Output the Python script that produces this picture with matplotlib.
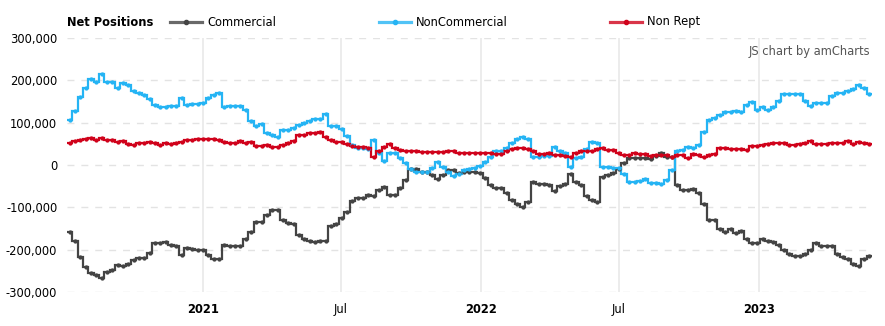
import matplotlib
matplotlib.use('Agg')
import matplotlib.pyplot as plt
import matplotlib.dates as mdates
from matplotlib.lines import Line2D
import numpy as np
import pandas as pd

plt.rcParams['font.family'] = ['DejaVu Sans']

# ---- data (thousands of contracts, weekly) ----
dates = pd.date_range('2020-07-10', periods=151, freq='7D')

commercial_k = [
    -158, -179, -217, -241, -255, -260, -267, -253, -247, -237, -238, -235, -225, -219, -219, -207, -185, -185, -183, -188, -192, -213, -197, -199, -201,
    -200, -213, -221, -221, -188, -192, -192, -192, -174, -158, -134, -134, -118, -107, -107, -130, -137, -140, -166, -174, -179, -183, -180, -180, -144,
    -140, -126, -110, -85, -79, -79, -71, -73, -58, -51, -71, -71, -55, -35, -10, -10, -17, -17, -24, -32, -24, -12, -12, -20, -16,
    -16, -16, -20, -30, -47, -55, -55, -67, -83, -92, -99, -88, -41, -45, -45, -47, -62, -49, -45, -21, -41, -47, -73, -83, -87,
    -28, -24, -20, -10, 4, 17, 17, 17, 17, 14, 22, 29, 20, 20, -47, -59, -59, -57, -67, -91, -130, -130, -150, -158, -152, -160,
    -156, -175, -185, -185, -174, -179, -183, -190, -201, -211, -215, -215, -211, -201, -185, -191, -191, -191, -211, -217, -223, -233, -239, -223, -215,
]
noncommercial_k = [
    107, 128, 160, 181, 203, 197, 215, 197, 197, 181, 193, 190, 175, 170, 166, 156, 142, 138, 137, 140, 140, 158, 142, 144, 145,
    146, 158, 166, 170, 138, 140, 140, 140, 130, 103, 91, 96, 75, 71, 67, 83, 83, 87, 95, 100, 105, 109, 108, 120, 91,
    91, 85, 68, 47, 39, 39, 37, 59, 28, 9, 29, 29, 16, 4, -10, -17, -17, -17, -8, 6, -4, -16, -25, -21, -12,
    -10, -6, -2, 6, 20, 32, 32, 39, 51, 62, 67, 62, 20, 20, 22, 22, 42, 34, 28, -4, 16, 20, 38, 54, 51,
    -4, -5, -8, -6, -22, -41, -41, -37, -34, -42, -43, -45, -36, -12, 34, 36, 43, 39, 47, 77, 107, 110, 118, 126, 126, 128,
    126, 142, 150, 130, 137, 130, 138, 152, 168, 168, 168, 168, 152, 140, 146, 146, 146, 164, 170, 170, 174, 179, 188, 182, 167,
]
nonrept_k = [
    53, 56, 59, 61, 63, 60, 63, 60, 58, 55, 57, 49, 47, 51, 51, 55, 53, 48, 51, 50, 51, 55, 59, 58, 61,
    61, 61, 61, 59, 54, 53, 53, 57, 51, 55, 46, 46, 47, 43, 43, 47, 52, 57, 71, 71, 75, 75, 77, 65, 59,
    54, 54, 49, 46, 43, 43, 39, 18, 34, 43, 49, 39, 36, 33, 33, 33, 30, 30, 30, 30, 31, 34, 34, 29, 28,
    29, 28, 28, 29, 29, 26, 26, 32, 38, 41, 40, 38, 32, 25, 25, 28, 24, 24, 22, 20, 28, 32, 34, 34, 38,
    39, 36, 36, 29, 24, 24, 28, 26, 26, 22, 24, 24, 24, 20, 24, 24, 16, 25, 24, 20, 24, 26, 39, 39, 37, 38,
    38, 36, 45, 44, 47, 49, 51, 51, 51, 47, 47, 49, 51, 57, 50, 49, 49, 53, 53, 53, 57, 49, 55, 53, 49,
]

series_names = ['Commercial', 'NonCommercial', 'Non Rept']
series_colors = ['#444444', '#25b4f4', '#d0021b']
series_values = [np.array(commercial_k) * 1000,
                 np.array(noncommercial_k) * 1000,
                 np.array(nonrept_k) * 1000]

tick_dates = pd.to_datetime(['2021-01-01', '2021-07-01', '2022-01-01', '2022-07-01', '2023-01-01'])
tick_labels = ['2021', 'Jul', '2022', 'Jul', '2023']
tick_bold = [True, False, True, False, True]
y_ticks = [-300000, -200000, -100000, 0, 100000, 200000, 300000]

# ---- figure ----
W, H = 885, 326
fig = plt.figure(figsize=(W / 100, H / 100), dpi=100)
ax = fig.add_axes([67 / W, 34 / H, 805 / W, 254 / H])

x = mdates.date2num(dates)
half = 3.5
edges = np.concatenate([x - half, [x[-1] + half]])

for vals, col in zip(series_values, series_colors):
    ax.stairs(vals, edges, baseline=None, color=col, lw=1.6, zorder=3)
    ax.plot(x, vals, 'o', ms=3.1, color=col, mec=col, mew=0, zorder=4)

ax.set_xlim(edges[0], edges[-1])
ax.set_ylim(-300000, 300000)

ax.set_yticks(y_ticks)
ax.set_yticklabels([f'{v:,.0f}' for v in y_ticks])
ax.set_xticks(mdates.date2num(tick_dates))
ax.set_xticklabels(tick_labels)
for lbl, b in zip(ax.get_xticklabels(), tick_bold):
    if b:
        lbl.set_fontweight('bold')

ax.tick_params(axis='both', length=0, labelsize=8.3, colors='#000000')
ax.tick_params(axis='y', pad=7)
ax.tick_params(axis='x', pad=8)

for s in ax.spines.values():
    s.set_visible(False)

ax.set_axisbelow(True)
ax.grid(axis='y', color='#e3e3e3', lw=1.0, ls=(0, (5, 5)))
ax.grid(axis='x', color='#ebebeb', lw=1.3, ls='-')

# ---- header / legend ----
yc = 1 - 22 / H
fig.text(67 / W, yc, 'Net Positions', ha='left', va='center', fontsize=8.3,
         fontweight='bold', color='#000000')
leg_pos = [(170, 202, 207), (379, 411, 416), (610, 642, 647)]
for (x0, x1, xt), name, col in zip(leg_pos, series_names, series_colors):
    fig.add_artist(Line2D([x0 / W, x1 / W], [yc, yc], transform=fig.transFigure,
                          color=col, lw=2.3, alpha=0.8))
    fig.add_artist(Line2D([(x0 + x1) / 2 / W], [yc], transform=fig.transFigure,
                          color=col, marker='o', ms=3.0, lw=0))
    fig.text(xt / W, yc, name, ha='left', va='center', fontsize=8.3, color='#000000')

fig.text(870 / W, 1 - 52 / H, 'JS chart by amCharts', ha='right', va='center',
         fontsize=8.3, color='#555555')

fig.savefig('out.png', dpi=100)
